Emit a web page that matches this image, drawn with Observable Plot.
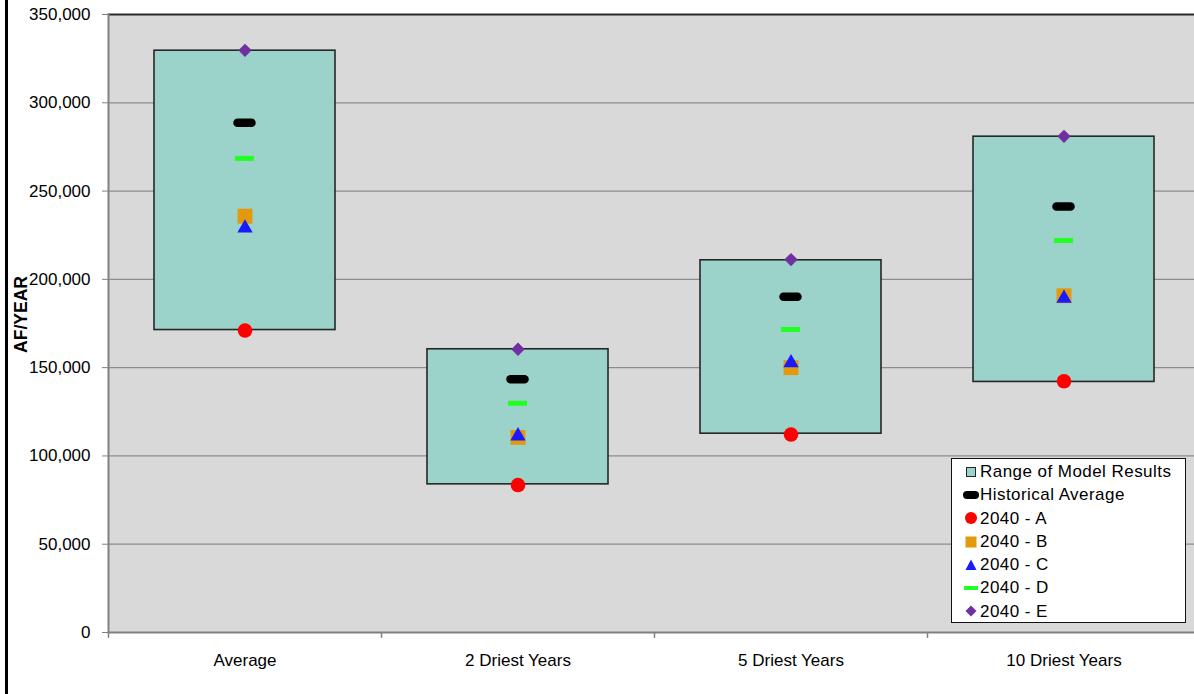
<!DOCTYPE html>
<html>
<head>
<meta charset="utf-8">
<script src="https://cdn.jsdelivr.net/npm/d3@7"></script>
<script src="https://cdn.jsdelivr.net/npm/@observablehq/plot@0.6"></script>
<style>
  html, body { margin: 0; padding: 0; background: #fff; overflow: hidden; }
  #wrap { position: relative; width: 1194px; height: 694px; overflow: hidden; font-family: "Liberation Sans", Arial, sans-serif; }
  #chart { width: 1200px; height: 694px; }
  #chart svg { max-width: none !important; }
  #leftline { position: absolute; left: 5px; top: 0; width: 3px; height: 694px; background: #000; }
  #legend { position: absolute; left: 951px; top: 458px; width: 233px; height: 162px; border: 1.5px solid #111; background: #fff; box-sizing: content-box; padding-top: 1px; }
  .row { height: 23.3px; line-height: 23.3px; font-size: 17px; letter-spacing: 0.45px; display: flex; align-items: center; color: #000; white-space: nowrap; }
  .row svg { flex: none; margin-left: 10px; }
</style>
</head>
<body>
<div id="wrap"><div id="chart"></div><div id="leftline"></div><div id="legend"></div></div>
<script>
const categories = ["Average", "2 Driest Years", "5 Driest Years", "10 Driest Years"];
const rangeLow  = [171300, 83900, 112600, 141900];
const rangeHigh = [329500, 160400, 210800, 280800];
const historicalAvg = [288700, 143400, 190200, 241300];
const scenarioA = [171000, 83500, 112100, 142300];
const scenarioB = [235800, 110500, 150000, 190700];
const scenarioC = [229000, 111300, 152700, 189300];
const scenarioD = [268500, 129800, 171600, 222000];
const scenarioE = [329700, 160400, 211200, 281000];
const yTicks = [0, 50000, 100000, 150000, 200000, 250000, 300000, 350000];
const legendLabels = ["Range of Model Results", "Historical Average", "2040 - A", "2040 - B", "2040 - C", "2040 - D", "2040 - E"];

const rows = categories.map((c, i) => ({
  cat: c, low: rangeLow[i], high: rangeHigh[i], hist: historicalAvg[i],
  A: scenarioA[i], B: scenarioB[i], C: scenarioC[i], D: scenarioD[i], E: scenarioE[i]
}));

const chart = Plot.plot({
  width: 1200, height: 694,
  marginLeft: 108, marginRight: 0, marginTop: 14, marginBottom: 62,
  style: { fontFamily: "'Liberation Sans', Arial, sans-serif", fontSize: "17px", background: "transparent", color: "#000", maxWidth: "none" },
  x: { domain: categories, paddingInner: 0.337, paddingOuter: 0.1685, axis: null },
  y: { domain: [0, 350000], axis: null },
  marks: [
    Plot.frame({ fill: "#d9d9d9", stroke: "none" }),
    Plot.ruleY(yTicks.filter(t => t > 0 && t < 350000), { stroke: "#8c8c8c", strokeWidth: 1.2 }),
    Plot.ruleY([350000], { stroke: "#2b2b2b", strokeWidth: 2 }),
    Plot.ruleY([0], { stroke: "#808080", strokeWidth: 2.2 }),
    Plot.frame({ anchor: "left", stroke: "#808080", strokeWidth: 2 }),
    Plot.ruleX(categories, { x: d => d, dx: -136.5, y1: 0, y2: -3300, stroke: "#808080", strokeWidth: 1.5 }),
    Plot.axisY({ ticks: yTicks, tickSize: 6, tickPadding: 12, tickFormat: d3.format(","), stroke: "#808080", fill: "#000", fontSize: 17, label: null }),
    Plot.axisX({ tickSize: 0, tickPadding: 21, fontSize: 17, fill: "#000", label: null }),
    Plot.text(["AF/YEAR"], { text: d => d, frameAnchor: "left", textAnchor: "middle", rotate: -90, dx: -87, dy: -9, fontWeight: "bold", fontSize: 17.5, fill: "#000" }),
    Plot.barY(rows, { x: "cat", y1: "low", y2: "high", fill: "#9bd3ca", stroke: "#262626", strokeWidth: 1.6 }),
    Plot.tickY(rows, { x: "cat", y: "hist", stroke: "#000", strokeWidth: 8.5, strokeLinecap: "round", insetLeft: 83.5, insetRight: 83.5 }),
    Plot.tickY(rows, { x: "cat", y: "D", stroke: "#22ff22", strokeWidth: 5, insetLeft: 81, insetRight: 81 }),
    Plot.dot(rows, { x: "cat", y: "A", symbol: "circle", r: 7.3, fill: "#ff0000", stroke: "none" }),
    Plot.dot(rows, { x: "cat", y: "B", symbol: "square", r: 8.4, fill: "#e29a0c", stroke: "none" }),
    Plot.dot(rows, { x: "cat", y: "C", symbol: "triangle", r: 5.7, fill: "#1a1aff", stroke: "none" }),
    Plot.dot(rows, { x: "cat", y: "E", symbol: "diamond2", r: 6.0, fill: "#7030a0", stroke: "none" })
  ]
});
document.getElementById("chart").appendChild(chart);

// Legend
const swatches = [
  '<rect x="4.5" y="3.5" width="9" height="9" fill="#9bd3ca" stroke="#262626" stroke-width="1"/>',
  '<rect x="1" y="4" width="16" height="8" rx="4" fill="#000"/>',
  '<circle cx="9" cy="8" r="6" fill="#ff0000"/>',
  '<rect x="3.5" y="2.5" width="11" height="11" fill="#e29a0c"/>',
  '<path d="M9,2.5 L14.5,13 L3.5,13 Z" fill="#1a1aff"/>',
  '<rect x="2" y="6" width="14" height="4" fill="#22ff22"/>',
  '<path d="M9,2.5 L14.5,8 L9,13.5 L3.5,8 Z" fill="#7030a0"/>'
];
const legend = document.getElementById("legend");
legendLabels.forEach((lab, i) => {
  const row = document.createElement("div");
  row.className = "row";
  row.innerHTML = `<svg width="18" height="16" viewBox="0 0 18 16">${swatches[i]}</svg><span>${lab}</span>`;
  legend.appendChild(row);
});
</script>
</body>
</html>
